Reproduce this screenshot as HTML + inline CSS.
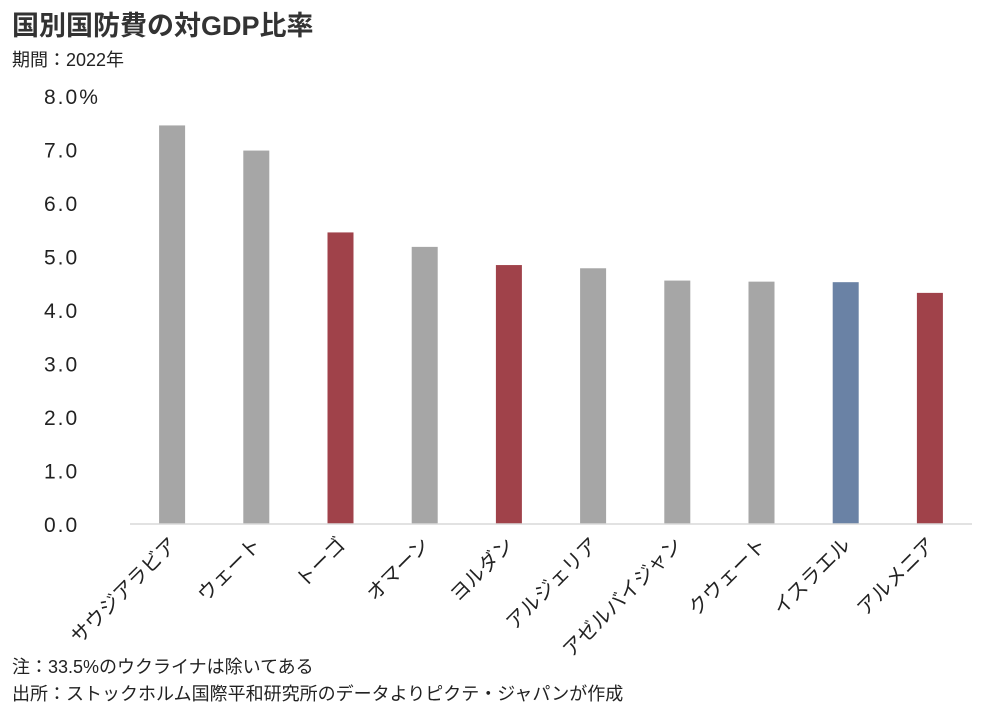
<!DOCTYPE html>
<html><head><meta charset="utf-8"><style>
body{margin:0;background:#fff;width:1003px;height:710px;overflow:hidden;font-family:"Liberation Sans","Noto Sans CJK JP",sans-serif;}
.t{position:absolute;color:#222;white-space:nowrap}
</style></head><body>
<div class="t" style="left:12px;top:4px;font-size:27px;font-weight:bold;color:#333">国別国防費の対GDP比率</div>
<div class="t" style="left:12px;top:46px;font-size:18px">期間：2022年</div>
<svg id="c" width="1003" height="710" style="position:absolute;left:0;top:0"></svg>
<div class="t" style="left:12px;top:653px;font-size:18px">注：33.5%のウクライナは除いてある</div>
<div class="t" style="left:12px;top:680px;font-size:18px">出所：ストックホルム国際平和研究所のデータよりピクテ・ジャパンが作成</div>
<script>
const categories=["サウジアラビア","クウェート","トーゴ","オマーン","ヨルダン","アルジェリア","アゼルバイジャン","クウェート","イスラエル","アルメニア"];
const values=[7.45,6.98,5.45,5.18,4.84,4.78,4.55,4.53,4.52,4.32];
const colors=["#a6a6a6","#a6a6a6","#a0424a","#a6a6a6","#a0424a","#a6a6a6","#a6a6a6","#a6a6a6","#6a82a5","#a0424a"];
const ticks=[0,1,2,3,4,5,6,7,8];
const tickLabels=["0.0","1.0","2.0","3.0","4.0","5.0","6.0","7.0","8.0%"];
const labelsShown=["サウジアラビア","ウェート","トーゴ","オマーン","ヨルダン","アルジェリア","アゼルバイジャン","クウェート","イスラエル","アルメニア"];
const svg=document.getElementById('c');const NS='http://www.w3.org/2000/svg';
const x0=130,x1=972,y0=524,yTop=96;
const y=v=>y0-(v/8)*(y0-yTop);
const step=(x1-x0)/categories.length;
const xc=i=>x0+step*(i+0.5);
function mk(t,a){const e=document.createElementNS(NS,t);for(const k in a)e.setAttribute(k,a[k]);svg.appendChild(e);return e;}
ticks.forEach((t,i)=>{const e=mk('text',{x:44,y:y(t)+8,'font-size':21,'letter-spacing':2,fill:'#222','font-family':'Liberation Sans, sans-serif'});e.textContent=tickLabels[i];

});
values.forEach((v,i)=>{const b=mk('rect',{x:xc(i)-13,y:y(v),width:26,height:y0-y(v),fill:colors[i]});


const tx=mk('text',{x:xc(i)+6,y:546,'font-size':20,fill:'#222','text-anchor':'end',transform:`rotate(-45 ${xc(i)+6} 546)`,'font-family':'Liberation Sans, Noto Sans CJK JP, sans-serif'});
tx.textContent=labelsShown[i];

});
const ax=mk('line',{x1:x0,x2:x1,y1:y0,y2:y0,stroke:'#d9d9d9','stroke-width':1.5});


</script>
</body></html>
